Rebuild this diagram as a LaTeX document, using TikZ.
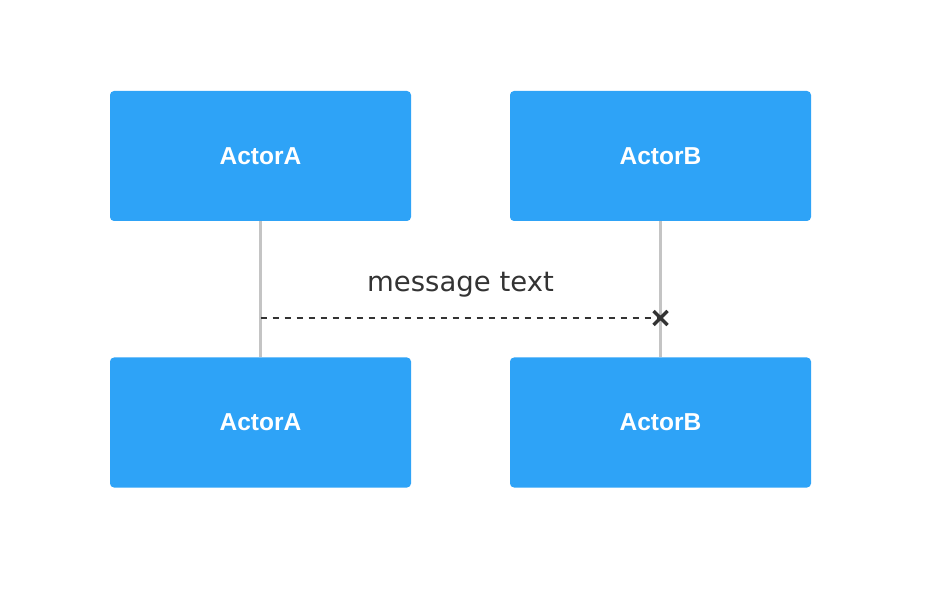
\documentclass[tikz,border=0pt]{standalone}
\usepackage{fontspec}
\setmainfont{Liberation Sans}
\newfontfamily\msgfont{DejaVu Sans}
\usepackage{xcolor}
\usetikzlibrary{arrows.meta,calc,positioning}
\definecolor{actorblue}{HTML}{2EA3F7}
\definecolor{lifegray}{HTML}{C4C4C4}
\definecolor{msgdark}{HTML}{333333}

\begin{document}
\begin{tikzpicture}[x=1pt,y=1pt,
  actor/.style={fill=actorblue,rounded corners=4pt,minimum width=301pt,minimum height=130pt,inner sep=0pt,text=white,font=\fontsize{24.5}{28}\selectfont\bfseries},
  lifeline/.style={draw=lifegray,line width=3pt},
  msgline/.style={draw=msgdark,line width=2.8pt,dash pattern=on 6pt off 6pt}]
  \useasboundingbox (0,0) rectangle (928,592);
  % actors, top row and bottom row
  \node[actor] (topA) at (260.5,436) {ActorA};
  \node[actor] (topB) at (660.5,436) {ActorB};
  \node[actor] (botA) at (260.5,169.5) {ActorA};
  \node[actor] (botB) at (660.5,169.5) {ActorB};
  \draw[lifeline] (topA.south) -- (botA.north);
  \draw[lifeline] (topB.south) -- (botB.north);
  % message with lost end
  \coordinate (msgA) at (topA.south |- 0,274);
  \coordinate (msgB) at (topB.south |- 0,274);
  \draw[msgline] (msgA) -- (msgB);
  \draw[msgdark,line width=3.2pt] ($(msgB)+(-7,-7)$) -- ($(msgB)+(7,7)$) ($(msgB)+(-7,7)$) -- ($(msgB)+(7,-7)$);
  \node[font=\msgfont\fontsize{27.5}{30}\selectfont,text=msgdark] (msgtext) at (460.5,307.5) {message text};
\end{tikzpicture}
\end{document}
